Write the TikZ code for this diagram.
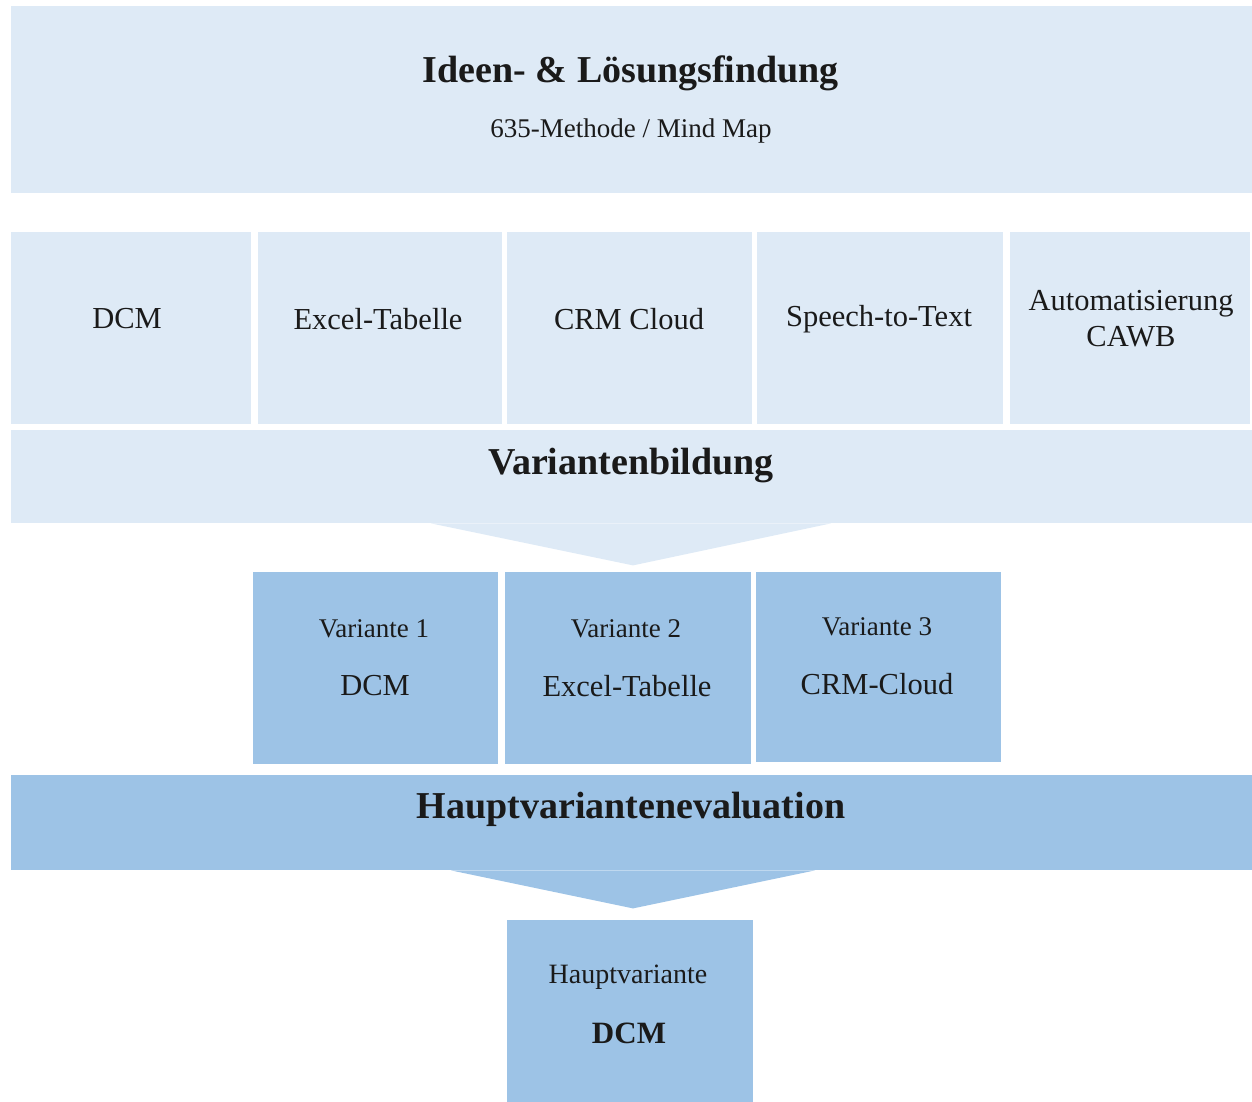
\documentclass[tikz,border=0pt]{standalone}
\usepackage{fontspec}
\setmainfont{Liberation Serif}
\usetikzlibrary{calc}
\definecolor{pale}{HTML}{DEEAF6}
\definecolor{mid}{HTML}{9DC3E6}
\definecolor{ink}{HTML}{1A1A1A}
\begin{document}
\begin{tikzpicture}[x=1pt,y=-1pt,
  panel/.style={fill=#1, draw=none, inner sep=0pt, anchor=north west},
  label/.style={text=ink, inner sep=0pt, align=center},
  head/.style={label, font=\fontsize{38}{42}\selectfont\bfseries},
  sub/.style={label, font=\fontsize{27}{31}\selectfont},
  item/.style={label, font=\fontsize{30.5}{36}\selectfont}]
\useasboundingbox (0,0) rectangle (1252,1102);

% stage 1: idea finding
\node[panel=pale, minimum width=1241, minimum height=187] (idea) at (11,6) {};
\node[head] at (631,73) {Ideen- \& Lösungsfindung};
\node[sub] at (631,131) {635-Methode / Mind Map};

% collected ideas
\node[panel=pale, minimum width=240, minimum height=192] (i1) at (11,232) {};
\node[panel=pale, minimum width=244, minimum height=192] (i2) at (258,232) {};
\node[panel=pale, minimum width=245, minimum height=192] (i3) at (507,232) {};
\node[panel=pale, minimum width=246, minimum height=192] (i4) at (757,232) {};
\node[panel=pale, minimum width=240, minimum height=192] (i5) at (1010,232) {};
\node[item] at (127,319) {DCM};
\node[item] at (378,319) {Excel-Tabelle};
\node[item] at (629,319) {CRM Cloud};
\node[item] at (879,319) {Speech-to-Text};
\node[item] at (1131,319) {Automatisierung\\CAWB};

% stage 2: variant building, with chevron
\node[panel=pale, minimum width=1241, minimum height=93] (vb) at (11,430) {};
\fill[pale] ($(vb.south west)+(420,0)$) -- ($(vb.south west)+(622,42)$) -- ($(vb.south west)+(820,0)$) -- cycle;
\node[head] at (631,466) {Variantenbildung};

% variants
\node[panel=mid, minimum width=245, minimum height=192] (v1) at (253,572) {};
\node[panel=mid, minimum width=246, minimum height=192] (v2) at (505,572) {};
\node[panel=mid, minimum width=245, minimum height=190] (v3) at (756,572) {};
\node[sub] at (374,629) {Variante 1};
\node[item] at (375,686) {DCM};
\node[sub] at (626,629) {Variante 2};
\node[item] at (627,686) {Excel-Tabelle};
\node[sub] at (877,627) {Variante 3};
\node[item] at (877,684) {CRM-Cloud};

% stage 3: evaluation, with chevron
\node[panel=mid, minimum width=1241, minimum height=95] (ev) at (11,775) {};
\fill[mid] ($(ev.south west)+(440,0)$) -- ($(ev.south west)+(622,38)$) -- ($(ev.south west)+(804,0)$) -- cycle;
\node[head] at (631,809) {Hauptvariantenevaluation};

% result
\node[panel=mid, minimum width=246, minimum height=182] (res) at (507,920) {};
\node[sub, font=\fontsize{28}{32}\selectfont] at (628,977) {Hauptvariante};
\node[label, font=\fontsize{31}{36}\selectfont\bfseries] at (629,1033) {DCM};
\end{tikzpicture}
\end{document}
